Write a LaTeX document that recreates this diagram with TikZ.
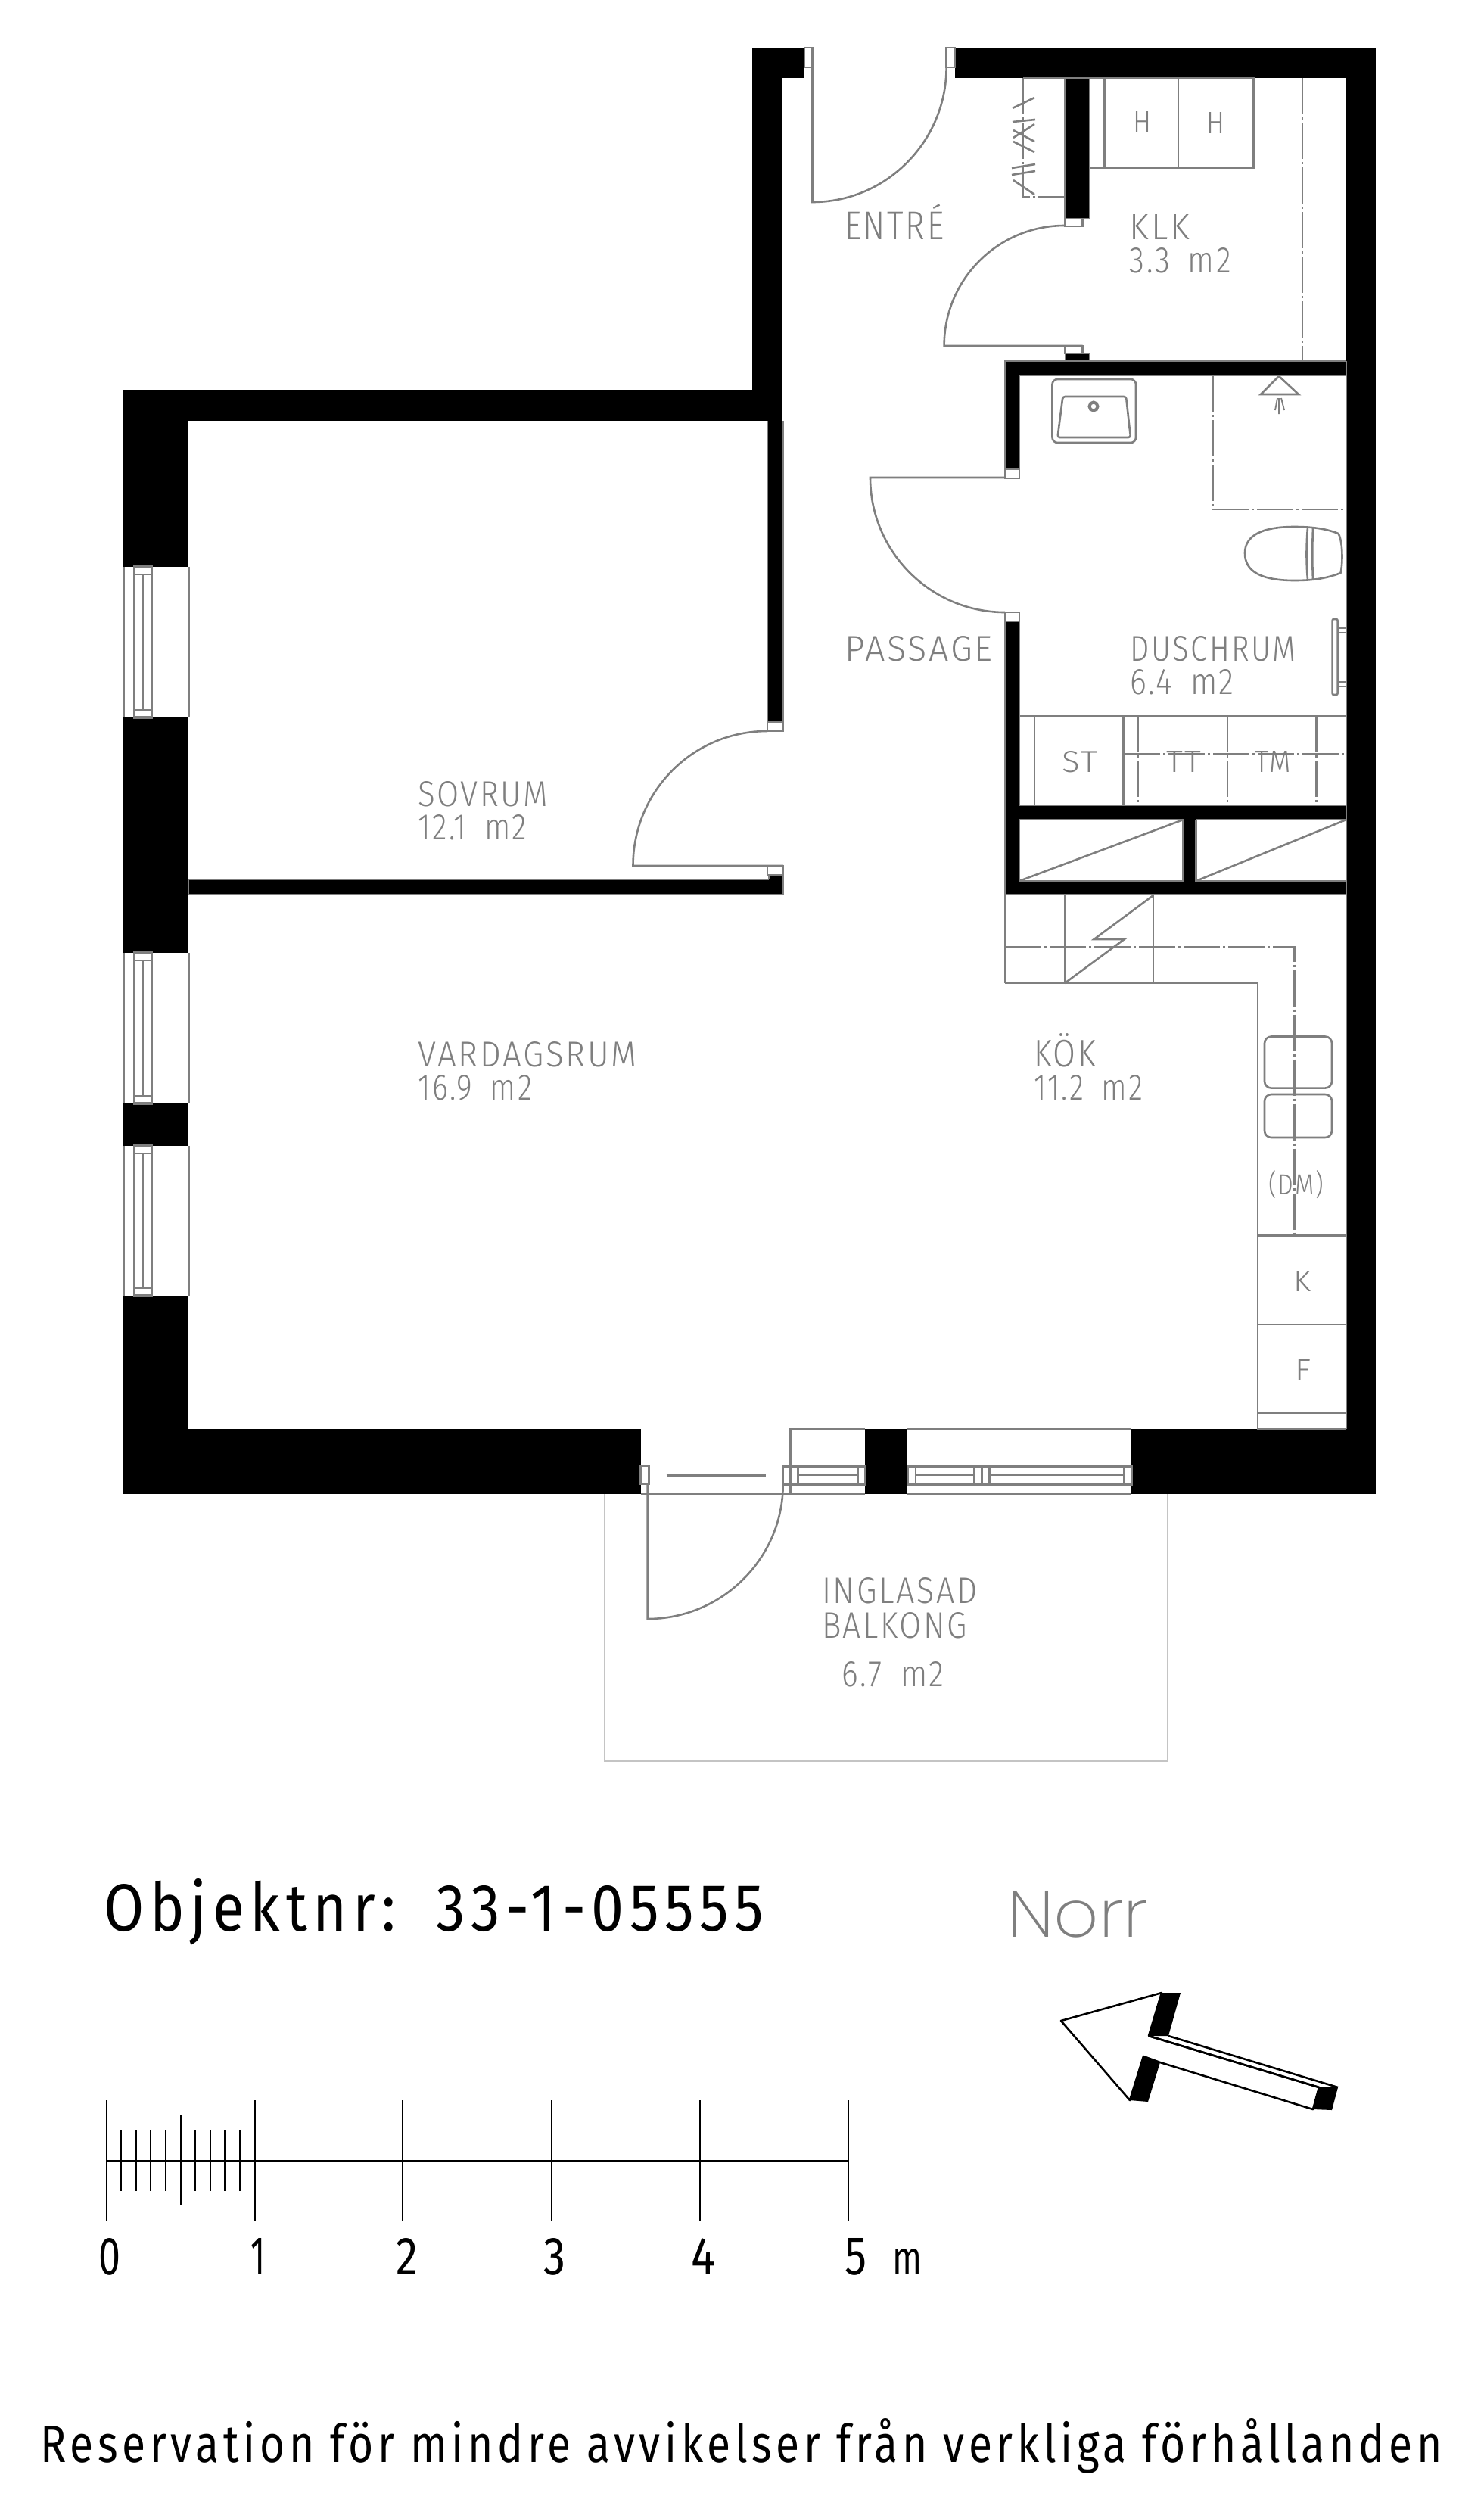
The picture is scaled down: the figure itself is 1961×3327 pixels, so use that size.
\documentclass[tikz,border=0pt]{standalone}
\usepackage{graphicx}
\usepackage{fontspec}
\newfontfamily\cadfont{Fira Sans Light}[LetterSpace=6]
\newfontfamily\blackfont{Fira Sans}[LetterSpace=10]
\newfontfamily\digitfont{Fira Sans}
\newfontfamily\norrfont{Poppins ExtraLight}
\definecolor{plangray}{HTML}{7F7F7F}
\definecolor{balcgray}{HTML}{C4C4C4}
\tikzset{
  wallfill/.style={fill=black,draw=none},
  plan/.style={draw=plangray,line width=2.6pt},
  thinplan/.style={draw=plangray,line width=1.8pt},
  dd/.style={draw=plangray,line width=2.6pt,dash pattern=on 48pt off 4pt on 3pt off 4pt},
  frame/.style={draw=plangray,fill=white,line width=2.6pt},
  lab/.style={anchor=base west,inner sep=0pt,text=plangray,font=\cadfont},
  blk/.style={anchor=base west,inner sep=0pt,text=black,font=\blackfont},
  dig/.style={anchor=base west,inner sep=0pt,text=black,font=\digitfont},
  scaleln/.style={draw=black,line width=2pt},
  arrowln/.style={draw=black,line width=2.6pt,line join=round}
}
\begin{document}
\begin{tikzpicture}[x=1pt,y=-1pt]
\useasboundingbox (0,0) rectangle (1961,3327);
\fill[white] (0,0) rectangle (1961,3327);
% balcony
\draw[balcgray,line width=1.4pt] (799,1974) -- (799,2327) -- (1543,2327) -- (1543,1974);
% walls
\foreach \a/\b/\c/\d in {163/515/249/749,163/948/249/1259,163/1458/249/1514,163/1712/249/1974,163/1888/847/1974,163/515/1034/556,994/64/1034/556,994/64/1063/103,1014/556/1035/954,1261.6/64/1818/103,1778.5/64/1818/1974,1143/1888/1199/1974,1495/1888/1818/1974,1407/103/1440/289,1408/467/1440/477,1328/477/1779/496,1328/477/1347/620,1328/821/1347/1182,1328/1064/1779/1083,1328/1164/1779/1182,1563.6/1083/1580.6/1164,249/1162/1035/1182,1015/1156/1035/1182}
  \fill[wallfill] (\a,\b) rectangle (\c,\d);
% wall outlines
\draw[thinplan] (1014,556) -- (1014,954) (1035,556) -- (1035,954);
\draw[thinplan] (249,1162) -- (1016,1162) (249,1182) -- (1035,1182) -- (1035,1156) (1016,1162) -- (1016,1156);
\draw[thinplan] (249,1162) -- (249,1182);
\draw[plan] (1779,477) -- (1779,1888);
\draw[plan] (1328,632) -- (1328,477) -- (1779,477) (1347,632) -- (1347,496) -- (1779,496);
\draw[plan] (1328,809) -- (1328,1299) (1347,809) -- (1347,1064);
\draw[plan] (1347,946) -- (1779,946) (1347,1064) -- (1779,1064);
\draw[plan] (1328,1182) -- (1779,1182);
\draw[plan] (1347,1083) rectangle (1563.6,1164) (1580.6,1083) -- (1779,1083) (1580.6,1083) -- (1580.6,1164) -- (1779,1164);
\draw[plan] (1347,1164) -- (1563.6,1083) (1580.6,1164) -- (1779,1083);
\draw[thinplan] (1407,103) -- (1407,289) -- (1440,289) -- (1440,103);
\draw[thinplan] (1408,477) -- (1408,467) -- (1440,467) -- (1440,477);
% windows west
\foreach \t/\b in {749/948,1259/1458,1514/1712}{
  \draw[draw=plangray,line width=3pt] (163,\t) -- (163,\b) (249,\t) -- (249,\b);
  \draw[draw=plangray,line width=3.4pt] (177.5,\t) rectangle (200.5,\b);
  \draw[plan] (189,\t+10) -- (189,\b-10) (177,\t+10) -- (201,\t+10) (177,\b-10) -- (201,\b-10);
}
% south windows and balcony door
\draw[plan] (847,1974) -- (1143,1974) (1199,1974) -- (1495,1974);
\draw[plan] (1044.6,1974) -- (1044.6,1888) -- (1143,1888) (1199,1888) -- (1495,1888);
\draw[plan,line width=3pt] (1034.7,1937) rectangle (1143,1961);
\draw[plan,line width=3pt] (1199,1937) rectangle (1495,1961);
\draw[plan] (1054.6,1937) -- (1054.6,1961) (1134,1937) -- (1134,1961) (1054.6,1949) -- (1134,1949);
\draw[plan] (1210,1937) -- (1210,1961) (1287.4,1937) -- (1287.4,1961) (1297.3,1937) -- (1297.3,1961) (1307.3,1937) -- (1307.3,1961) (1485.4,1937) -- (1485.4,1961);
\draw[plan] (1210,1949) -- (1287.4,1949) (1307.3,1949) -- (1485.4,1949);
\draw[plan,line width=3pt] (880.5,1949) -- (1011.8,1949);
\draw[frame] (846.7,1937) rectangle (857.6,1961);
% door leaves and swings
\draw[plan] (1073.5,89) -- (1073.5,267) .. controls (1171,267) and (1250.6,187) .. (1250.6,89);
\draw[plan] (1407,298) .. controls (1319,298) and (1247.6,369) .. (1247.6,457) -- (1430.7,457);
\draw[plan] (1328,631) -- (1150,631) .. controls (1150,729) and (1230,809) .. (1328,809);
\draw[plan] (1014,966) .. controls (915,966) and (836.5,1046) .. (836.5,1144) -- (1035,1144);
\draw[plan] (855.6,1961) -- (855.6,2139) .. controls (954,2139) and (1034.7,2059) .. (1034.7,1961);
% door frames
\foreach \a/\b/\c/\d in {1063/63/1073.5/89,1250.6/63/1261.6/89,1407/289/1430.7/299,1407/457/1430.7/467,1328/620/1347/632,1328/809/1347/821,1014/954/1035/966,1014/1144/1035/1156}
  \draw[frame] (\a,\b) rectangle (\c,\d);
% KLK
\draw[plan] (1440,222) -- (1656.5,222) -- (1656.5,103) -- (1352,103);
\draw[plan] (1459.5,103) -- (1459.5,222) (1557,103) -- (1557,222);
\draw[dd] (1721,103) -- (1721,477);
\draw[dd] (1352,103) -- (1352,260) -- (1407,260);
\foreach \a/\b/\c/\d in {1338/143/1367/129,1338/161/1368/158,1339/182/1367/164,1339/172/1367/187,1339/187/1367/201,1337/222/1368/217,1337/231/1368/226,1339/238/1367/257}
  \draw[plan] (\a,\b) -- (\c,\d);
% sink
\draw[plan,rounded corners=7pt] (1390.5,501) rectangle (1501,585);
\draw[plan,rounded corners=3pt] (1404.4,524) -- (1488,524) -- (1494,578) -- (1397.5,578) -- cycle;
\draw[plan,line width=4pt] (1445,537) circle[radius=5.5pt];
% shower
\draw[dd] (1602.4,496) -- (1602.4,673) -- (1779,673);
\draw[plan] (1690,497) -- (1716,521) -- (1666,521) -- cycle;
\draw[thinplan] (1690,526) -- (1690,547) (1688,526) -- (1685,542) (1693,526) -- (1697,542);
% toilet
\draw[plan] (1768.5,705) .. controls (1751.5,698) and (1731.5,696) .. (1710.5,696) .. controls (1666.5,696) and (1645,708) .. (1645,731) .. controls (1645,755) and (1666.5,767) .. (1710.5,767) .. controls (1731.5,767) and (1751.5,765) .. (1771.5,757) .. controls (1774.5,745) and (1774.5,715) .. (1768.5,705) -- cycle;
\draw[plan] (1728,697) .. controls (1726,720) and (1726,745) .. (1728,766) (1735,698) .. controls (1734,720) and (1734,745) .. (1735,766);
% towel rail
\draw[plan,rounded corners=2pt] (1760.6,818) rectangle (1767.6,918);
\draw[plan] (1767.6,830) -- (1779,830) (1767.6,836) -- (1779,836) (1767.6,901) -- (1779,901) (1767.6,907) -- (1779,907);
% wardrobes below shower
\draw[plan] (1367,946) -- (1367,1064) (1484.7,946) -- (1484.7,1064);
\foreach \x in {1504,1622,1739.7} \draw[dd] (\x,946) -- (\x,1064);
\draw[dd] (1485,996) -- (1779,996);
% kitchen
\draw[plan] (1328,1299) -- (1662,1299) -- (1662,1888) -- (1779,1888);
\draw[plan] (1407,1182) -- (1407,1299) (1524,1182) -- (1524,1299);
\draw[plan] (1524,1183) -- (1445.7,1241) -- (1485.7,1241) -- (1407,1299);
\draw[dd] (1328,1251) -- (1710.5,1251) -- (1710.5,1632);
\draw[plan,rounded corners=9pt] (1671,1369.5) rectangle (1760,1437.6);
\draw[plan,rounded corners=9pt] (1671,1446) rectangle (1760,1503);
\draw[plan] (1662,1632.5) -- (1779,1632.5) (1662,1750) -- (1779,1750) (1662,1867) -- (1779,1867);
% labels
\node[lab] (entre) at (1116,316) {\resizebox{131pt}{47pt}{ENTRÉ}};
\node[lab] (klk) at (1492.5,316) {\resizebox{79pt}{33pt}{KLK}};
\node[lab] (klka) at (1492.5,360) {\resizebox{134pt}{33pt}{3.3 \hspace{.25em}m2}};
\node[lab] (h1) at (1497,175) {\resizebox{24pt}{28pt}{H}};
\node[lab] (h2) at (1594,176) {\resizebox{24pt}{28pt}{H}};
\node[lab] (passage) at (1116.5,873) {\resizebox{195pt}{33pt}{PASSAGE}};
\node[lab] (dusch) at (1493.5,873) {\resizebox{219pt}{33pt}{DUSCHRUM}};
\node[lab] (duscha) at (1493.5,917) {\resizebox{137pt}{33pt}{6.4 \hspace{.25em}m2}};
\node[lab] (st) at (1403,1020) {\resizebox{47pt}{28pt}{ST}};
\node[lab] (tt) at (1541,1020) {\resizebox{46pt}{28pt}{TT}};
\node[lab] (tm) at (1658,1020) {\resizebox{48pt}{28pt}{TM}};
\node[lab] (sovrum) at (552,1065) {\resizebox{172pt}{33pt}{SOVRUM}};
\node[lab] (sovruma) at (552,1109) {\resizebox{144pt}{33pt}{12.1 \hspace{.25em}m2}};
\node[lab] (vard) at (552,1409) {\resizebox{289pt}{33pt}{VARDAGSRUM}};
\node[lab] (varda) at (552,1453) {\resizebox{151pt}{33pt}{16.9 \hspace{.25em}m2}};
\node[lab] (kok) at (1366,1409) {\resizebox{82pt}{44pt}{KÖK}};
\node[lab] (koka) at (1366,1453) {\resizebox{144pt}{33pt}{11.2 \hspace{.25em}m2}};
\node[lab] (dm) at (1676,1578) {\resizebox{73pt}{32pt}{(DM)}};
\node[lab] (kk) at (1709,1706) {\resizebox{23pt}{27pt}{K}};
\node[lab] (ff) at (1711,1823) {\resizebox{21pt}{27pt}{F}};
\node[lab] (ingl) at (1086,2118) {\resizebox{205pt}{34pt}{INGLASAD}};
\node[lab] (balk) at (1086,2164) {\resizebox{192pt}{34pt}{BALKONG}};
\node[lab] (balka) at (1112.5,2228) {\resizebox{135pt}{33pt}{6.7 \hspace{.25em}m2}};
\node[blk] (obj) at (137,2551) {\resizebox{872pt}{69pt}{Objektnr: \hspace{.2em}33-1-05555}};
\node[lab,font=\norrfont] (norr) at (1331,2559) {\resizebox{186pt}{61pt}{Norr}};
\node[blk] (res) at (53,3253) {\resizebox{1852pt}{58pt}{Reservation för mindre avvikelser från verkliga förhållanden}};
% north arrow
\draw[arrowln,fill=white] (1402,2670) -- (1535,2633) -- (1518,2690) -- (1743,2758) -- (1735,2787) -- (1533,2725) -- (1511,2717) -- (1493,2775) -- cycle;
\draw[arrowln] (1544,2690) -- (1768,2758) (1518,2690) -- (1743,2758);
\fill[black] (1535,2633) -- (1560,2633) -- (1544,2690) -- (1518,2690) -- cycle;
\fill[black] (1511,2717) -- (1533,2725) -- (1517,2777) -- (1493,2775) -- cycle;
\fill[black] (1743,2758) -- (1768,2758) -- (1760,2788) -- (1735,2787) -- cycle;
% scale bar
\draw[black,line width=3pt] (140.6,2855) -- (1121,2855);
\foreach \x in {140.6,336.5,532.4,729,925,1121} \draw[scaleln] (\x,2775) -- (\x,2934);
\foreach \x in {160.2,179.8,199.4,219,258.2,277.8,297.4,317} \draw[scaleln] (\x,2814) -- (\x,2895);
\draw[scaleln] (238.6,2794) -- (238.6,2914);
\node[dig] (s0) at (130,3005) {\resizebox{29pt}{48pt}{0}};
\node[dig] (s1) at (331,3005) {\resizebox{19pt}{48pt}{1}};
\node[dig] (s2) at (523,3005) {\resizebox{29pt}{48pt}{2}};
\node[dig] (s3) at (718,3005) {\resizebox{29pt}{48pt}{3}};
\node[dig] (s4) at (913,3005) {\resizebox{32pt}{48pt}{4}};
\node[dig] (s5) at (1116,3005) {\resizebox{29pt}{48pt}{5}};
\node[dig] (sm) at (1179,3005) {\resizebox{39pt}{34pt}{m}};
\end{tikzpicture}
\end{document}
